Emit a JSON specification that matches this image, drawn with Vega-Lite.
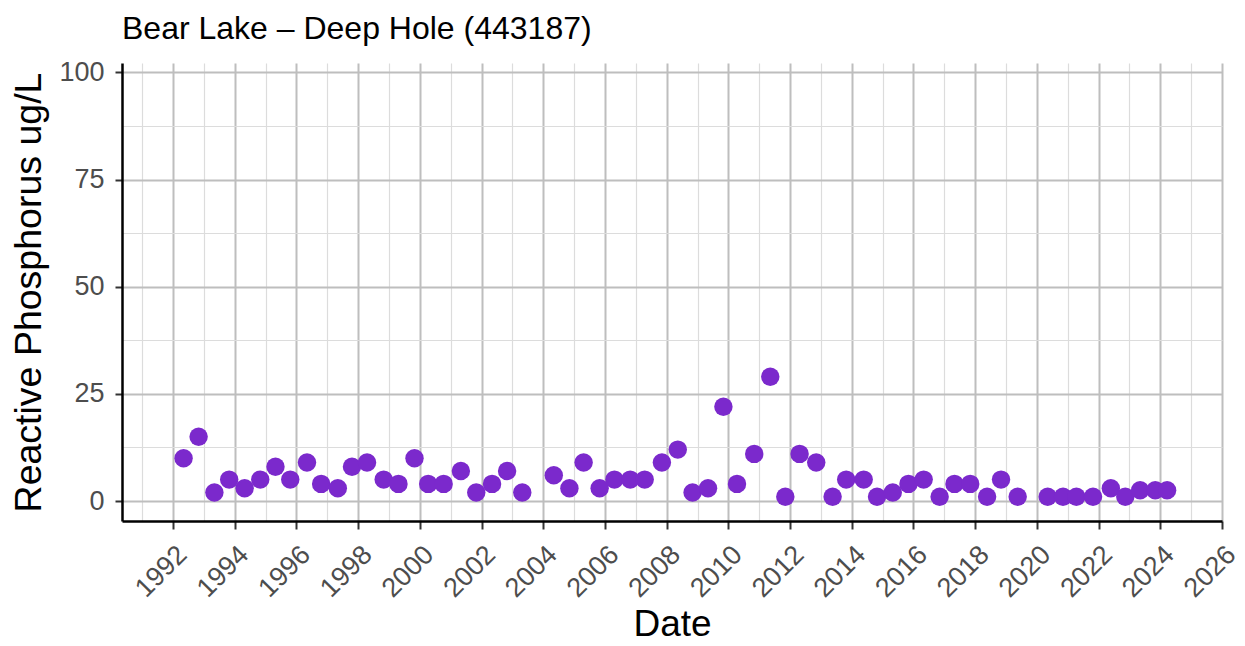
{
  "$schema": "https://vega.github.io/schema/vega-lite/v6.json",
  "width": 1100,
  "height": 458,
  "autosize": {"type": "none"},
  "padding": {"left": 122, "top": 63, "right": 23, "bottom": 125},
  "background": "white",
  "title": {
    "text": "Bear Lake – Deep Hole (443187)",
    "anchor": "start",
    "frame": "group",
    "font": "Liberation Sans",
    "fontSize": 32,
    "fontWeight": "normal",
    "color": "black",
    "baseline": "alphabetic",
    "offset": 21,
    "dy": 34
  },
  "data": {
    "values": [
      {"date": "1992-05-05", "value": 10},
      {"date": "1992-10-30", "value": 15},
      {"date": "1993-05-05", "value": 2},
      {"date": "1993-10-27", "value": 5},
      {"date": "1994-04-28", "value": 3},
      {"date": "1994-10-30", "value": 5},
      {"date": "1995-04-28", "value": 8},
      {"date": "1995-10-20", "value": 5},
      {"date": "1996-05-05", "value": 9},
      {"date": "1996-10-20", "value": 4},
      {"date": "1997-05-05", "value": 3},
      {"date": "1997-10-20", "value": 8},
      {"date": "1998-04-16", "value": 9},
      {"date": "1998-10-30", "value": 5},
      {"date": "1999-04-23", "value": 4},
      {"date": "1999-10-30", "value": 10},
      {"date": "2000-04-09", "value": 4},
      {"date": "2000-10-09", "value": 4},
      {"date": "2001-05-01", "value": 7},
      {"date": "2001-10-30", "value": 2},
      {"date": "2002-05-05", "value": 4},
      {"date": "2002-10-30", "value": 7},
      {"date": "2003-04-28", "value": 2},
      {"date": "2004-05-05", "value": 6},
      {"date": "2004-11-06", "value": 3},
      {"date": "2005-04-23", "value": 9},
      {"date": "2005-10-30", "value": 3},
      {"date": "2006-04-23", "value": 5},
      {"date": "2006-10-27", "value": 5},
      {"date": "2007-04-16", "value": 5},
      {"date": "2007-11-06", "value": 9},
      {"date": "2008-05-12", "value": 12},
      {"date": "2008-11-03", "value": 2},
      {"date": "2009-05-05", "value": 3},
      {"date": "2009-11-03", "value": 22},
      {"date": "2010-04-13", "value": 4},
      {"date": "2010-11-03", "value": 11},
      {"date": "2011-05-12", "value": 29},
      {"date": "2011-11-06", "value": 1},
      {"date": "2012-04-23", "value": 11},
      {"date": "2012-11-06", "value": 9},
      {"date": "2013-05-19", "value": 1},
      {"date": "2013-10-27", "value": 5},
      {"date": "2014-05-22", "value": 5},
      {"date": "2014-10-27", "value": 1},
      {"date": "2015-05-01", "value": 2},
      {"date": "2015-11-03", "value": 4},
      {"date": "2016-05-01", "value": 5},
      {"date": "2016-11-06", "value": 1},
      {"date": "2017-05-01", "value": 4},
      {"date": "2017-11-03", "value": 4},
      {"date": "2018-05-22", "value": 1},
      {"date": "2018-11-03", "value": 5},
      {"date": "2019-05-19", "value": 1},
      {"date": "2020-05-08", "value": 1},
      {"date": "2020-11-06", "value": 1},
      {"date": "2021-04-13", "value": 1},
      {"date": "2021-10-27", "value": 1},
      {"date": "2022-05-26", "value": 3},
      {"date": "2022-11-13", "value": 1},
      {"date": "2023-05-08", "value": 2.5},
      {"date": "2023-11-03", "value": 2.5},
      {"date": "2024-03-22", "value": 2.5}
    ]
  },
  "layer": [
    {
      "mark": {"type": "point", "opacity": 0},
      "encoding": {
        "x": {
          "field": "date", "type": "temporal",
          "scale": {"type": "utc", "domain": [{"year": 1990, "month": 5, "date": 7, "utc": true}, {"year": 2026, "month": 1, "date": 1, "utc": true}]},
          "axis": {
            "orient": "top", "labels": false, "ticks": false, "domain": false, "title": null,
            "minExtent": 0, "maxExtent": 0,
            "grid": true, "gridColor": "#dcdcdc", "gridWidth": 1.2,
            "values": [
              {"year": 1991, "month": 1, "date": 1, "utc": true},
              {"year": 1993, "month": 1, "date": 1, "utc": true},
              {"year": 1995, "month": 1, "date": 1, "utc": true},
              {"year": 1997, "month": 1, "date": 1, "utc": true},
              {"year": 1999, "month": 1, "date": 1, "utc": true},
              {"year": 2001, "month": 1, "date": 1, "utc": true},
              {"year": 2003, "month": 1, "date": 1, "utc": true},
              {"year": 2005, "month": 1, "date": 1, "utc": true},
              {"year": 2007, "month": 1, "date": 1, "utc": true},
              {"year": 2009, "month": 1, "date": 1, "utc": true},
              {"year": 2011, "month": 1, "date": 1, "utc": true},
              {"year": 2013, "month": 1, "date": 1, "utc": true},
              {"year": 2015, "month": 1, "date": 1, "utc": true},
              {"year": 2017, "month": 1, "date": 1, "utc": true},
              {"year": 2019, "month": 1, "date": 1, "utc": true},
              {"year": 2021, "month": 1, "date": 1, "utc": true},
              {"year": 2023, "month": 1, "date": 1, "utc": true},
              {"year": 2025, "month": 1, "date": 1, "utc": true}
            ]
          }
        },
        "y": {
          "field": "value", "type": "quantitative",
          "scale": {"domain": [-4.66, 102.2], "nice": false, "zero": false},
          "axis": {
            "orient": "right", "labels": false, "ticks": false, "domain": false, "title": null,
            "minExtent": 0, "maxExtent": 0,
            "grid": true, "gridColor": "#dcdcdc", "gridWidth": 1.2,
            "values": [12.5, 37.5, 62.5, 87.5]
          }
        }
      }
    },
    {
      "mark": {"type": "circle", "size": 340, "color": "#7b29cc", "opacity": 1},
      "encoding": {
        "x": {
          "field": "date", "type": "temporal",
          "axis": {
            "orient": "bottom",
            "title": "Date",
            "titleFont": "Liberation Sans", "titleFontSize": 37, "titleFontWeight": "normal", "titleColor": "black",
            "titlePadding": 5,
            "format": "%Y",
            "labelAngle": -45, "labelAlign": "right", "labelBaseline": "top",
            "labelFont": "Liberation Sans", "labelFontSize": 27, "labelColor": "#4d4d4d",
            "labelPadding": 12, "labelOverlap": false, "labelFlush": false,
            "domainColor": "black", "domainWidth": 2.5,
            "tickColor": "#333333", "tickWidth": 2, "tickSize": 8,
            "grid": true, "gridColor": "#bebebe", "gridWidth": 2,
            "values": [
              {"year": 1992, "month": 1, "date": 1, "utc": true},
              {"year": 1994, "month": 1, "date": 1, "utc": true},
              {"year": 1996, "month": 1, "date": 1, "utc": true},
              {"year": 1998, "month": 1, "date": 1, "utc": true},
              {"year": 2000, "month": 1, "date": 1, "utc": true},
              {"year": 2002, "month": 1, "date": 1, "utc": true},
              {"year": 2004, "month": 1, "date": 1, "utc": true},
              {"year": 2006, "month": 1, "date": 1, "utc": true},
              {"year": 2008, "month": 1, "date": 1, "utc": true},
              {"year": 2010, "month": 1, "date": 1, "utc": true},
              {"year": 2012, "month": 1, "date": 1, "utc": true},
              {"year": 2014, "month": 1, "date": 1, "utc": true},
              {"year": 2016, "month": 1, "date": 1, "utc": true},
              {"year": 2018, "month": 1, "date": 1, "utc": true},
              {"year": 2020, "month": 1, "date": 1, "utc": true},
              {"year": 2022, "month": 1, "date": 1, "utc": true},
              {"year": 2024, "month": 1, "date": 1, "utc": true},
              {"year": 2026, "month": 1, "date": 1, "utc": true}
            ]
          }
        },
        "y": {
          "field": "value", "type": "quantitative",
          "axis": {
            "orient": "left",
            "title": "Reactive Phosphorus ug/L",
            "titleFont": "Liberation Sans", "titleFontSize": 37.5, "titleFontWeight": "normal", "titleColor": "black",
            "titlePadding": 10,
            "labelFont": "Liberation Sans", "labelFontSize": 27, "labelColor": "#4d4d4d",
            "labelPadding": 11,
            "domainColor": "black", "domainWidth": 2.5,
            "tickColor": "#333333", "tickWidth": 2, "tickSize": 7,
            "grid": true, "gridColor": "#bebebe", "gridWidth": 2,
            "values": [0, 25, 50, 75, 100]
          }
        }
      }
    }
  ],
  "resolve": {"axis": {"x": "independent", "y": "independent"}},
  "config": {"view": {"stroke": null}}
}
